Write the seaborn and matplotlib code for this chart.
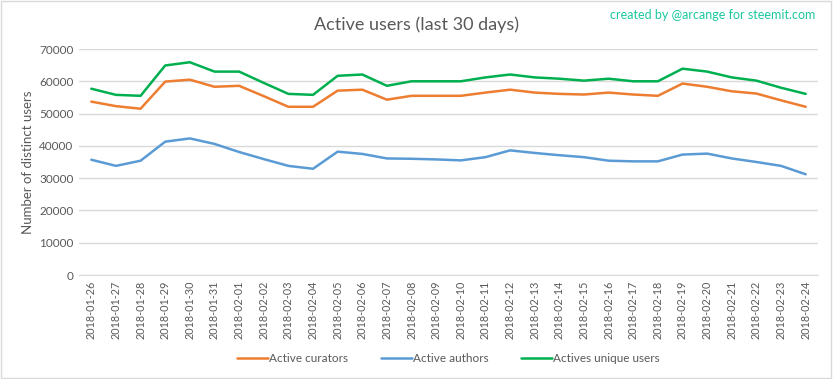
import numpy as np
import pandas as pd
import matplotlib
matplotlib.use("Agg")
import matplotlib.pyplot as plt
import seaborn as sns

# dates on the x axis (last 30 days)
dates = ["2018-01-26", "2018-01-27", "2018-01-28", "2018-01-29", "2018-01-30",
         "2018-01-31", "2018-02-01", "2018-02-02", "2018-02-03", "2018-02-04",
         "2018-02-05", "2018-02-06", "2018-02-07", "2018-02-08", "2018-02-09",
         "2018-02-10", "2018-02-11", "2018-02-12", "2018-02-13", "2018-02-14",
         "2018-02-15", "2018-02-16", "2018-02-17", "2018-02-18", "2018-02-19",
         "2018-02-20", "2018-02-21", "2018-02-22", "2018-02-23", "2018-02-24"]

curators = [53700, 52300, 51500, 59900, 60500, 58300, 58600, 55400, 52100, 52100,
            57100, 57400, 54300, 55500, 55500, 55500, 56500, 57400, 56500, 56100,
            55900, 56500, 55900, 55500, 59300, 58300, 56900, 56200, 54100, 52100]

authors = [35700, 33800, 35400, 41300, 42300, 40600, 38100, 35900, 33800, 32900,
           38200, 37500, 36100, 36000, 35800, 35500, 36500, 38600, 37800, 37100,
           36500, 35400, 35200, 35200, 37300, 37600, 36100, 35000, 33800, 31200]

unique_users = [57700, 55800, 55500, 64900, 65900, 63000, 63000, 59500, 56100, 55800,
                61700, 62100, 58600, 60000, 60000, 60000, 61200, 62100, 61200, 60800,
                60200, 60800, 60000, 60000, 63900, 63000, 61200, 60200, 58000, 56100]

series_names = ["Active curators", "Active authors", "Actives unique users"]
palette = {"Active curators": "#ED7D31",
           "Active authors": "#5B9BD5",
           "Actives unique users": "#00B050"}

# long-form table for seaborn
idx = np.arange(len(dates))
df = pd.concat([
    pd.DataFrame({"day": idx, "users": curators, "series": series_names[0]}),
    pd.DataFrame({"day": idx, "users": authors, "series": series_names[1]}),
    pd.DataFrame({"day": idx, "users": unique_users, "series": series_names[2]}),
], ignore_index=True)

sns.set_style("white")
plt.rcParams["font.family"] = ["Lato", "DejaVu Sans"]

fig = plt.figure(figsize=(8.33, 3.79), dpi=100)
ax = fig.add_axes([79 / 833, 1 - 275 / 379, (818 - 79) / 833, (275 - 49) / 379])

sns.lineplot(data=df, x="day", y="users", hue="series", hue_order=series_names,
             palette=palette, linewidth=1.8, ax=ax, legend=True)

grey = "#595959"
ax.set_xlim(-0.5, len(dates) - 0.5)
ax.set_ylim(0, 70000)
ax.set_yticks(range(0, 70001, 10000))
ax.set_yticklabels([str(v) for v in range(0, 70001, 10000)], fontsize=8.5, color=grey)
ax.set_xticks(idx)
ax.set_xticklabels(dates, rotation=90, fontsize=7.8, color=grey)
ax.tick_params(axis="both", length=0, pad=4)
ax.grid(axis="y", color="#D9D9D9", linewidth=1)
ax.set_axisbelow(True)
for side in ["top", "right", "left"]:
    ax.spines[side].set_visible(False)
ax.spines["bottom"].set_color("#D9D9D9")
ax.set_xlabel("")
ax.set_ylabel("Number of distinct users", fontsize=9.5, color=grey, labelpad=4)

ax.legend(loc="upper center", bbox_to_anchor=(0.5, -0.30), ncol=3, frameon=False,
          fontsize=8.5, handlelength=2.6, handletextpad=0.1, columnspacing=2.8,
          labelcolor=grey)

fig.text(0.5, 1 - 25 / 379, "Active users (last 30 days)", ha="center", va="center",
         fontsize=13, color=grey)
fig.text(815 / 833, 1 - 15 / 379, "created by @arcange for steemit.com", ha="right",
         va="center", fontsize=9, color="#1CC7A0")

# light frame around the whole picture
fig.patches.append(plt.Rectangle((0.001, 0.002), 0.997, 0.995, transform=fig.transFigure,
                                 fill=False, edgecolor="#D9D9D9", linewidth=1))

fig.savefig("out.png", dpi=100)
